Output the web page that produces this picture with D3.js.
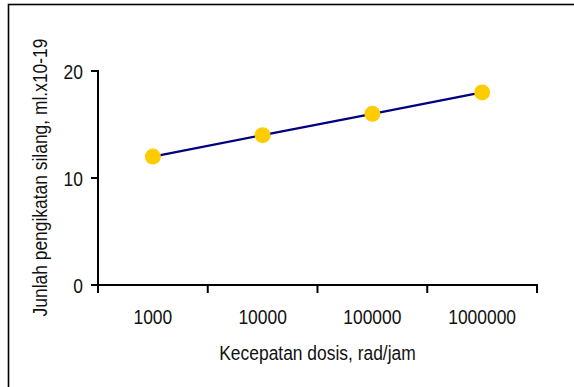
<!DOCTYPE html>
<html>
<head>
<meta charset="utf-8">
<script src="https://cdn.jsdelivr.net/npm/d3@7"></script>
<style>
  html, body { margin: 0; padding: 0; background: #fff; }
  svg { display: block; }
  text { font-family: "Liberation Sans", Arial, sans-serif; fill: #111; font-size: 21px; }
</style>
</head>
<body>
<svg id="chart" width="574" height="387"></svg>
<script>
// Dose rate categories and cross-link counts
const categories = ["1000", "10000", "100000", "1000000"];
const values = [12, 14, 16, 18];
const yTicks = [0, 10, 20];

const svg = d3.select("#chart");
const W = 574, H = 387;
const margin = { left: 98, right: 37, top: 71, bottom: 102 };
const narrow = 0.83; // condensed look for all labels

// outer frame
svg.append("rect")
  .attr("x", 8.5).attr("y", 4.5)
  .attr("width", W).attr("height", H)
  .attr("fill", "none").attr("stroke", "#000").attr("stroke-width", 1.6);

const x = d3.scaleBand()
  .domain(categories)
  .range([margin.left, W - margin.right])
  .paddingInner(0).paddingOuter(0);

const y = d3.scaleLinear()
  .domain([0, 20])
  .range([H - margin.bottom, margin.top]);

function label(px, py, str, anchor, rot) {
  return svg.append("text")
    .attr("transform", `translate(${px},${py})${rot ? ` rotate(${rot})` : ""} scale(${narrow},1)`)
    .attr("text-anchor", anchor)
    .text(str);
}

// x axis: ticks fall on category boundaries
const xAxisY = y(0);
svg.append("line")
  .attr("x1", margin.left - 7).attr("x2", W - margin.right + 1)
  .attr("y1", xAxisY).attr("y2", xAxisY)
  .attr("stroke", "#000").attr("stroke-width", 2);
const bounds = categories.map(c => x(c)).concat([x(categories[categories.length - 1]) + x.bandwidth()]);
svg.selectAll(".xt").data(bounds).enter().append("line")
  .attr("x1", d => d).attr("x2", d => d)
  .attr("y1", xAxisY).attr("y2", xAxisY + 8)
  .attr("stroke", "#000").attr("stroke-width", 2);
categories.forEach(c => label(x(c) + x.bandwidth() / 2, xAxisY + 39, c, "middle"));

// y axis
svg.append("line")
  .attr("x1", margin.left).attr("x2", margin.left)
  .attr("y1", y(20) - 1).attr("y2", y(0) + 8)
  .attr("stroke", "#000").attr("stroke-width", 2);
svg.selectAll(".yt").data(yTicks).enter().append("line")
  .attr("x1", margin.left - 7).attr("x2", margin.left)
  .attr("y1", d => y(d)).attr("y2", d => y(d))
  .attr("stroke", "#000").attr("stroke-width", 2);
yTicks.forEach(t => label(margin.left - 15, y(t) + 7.5, String(t), "end"));

// series line and markers
const cx = d => x(d) + x.bandwidth() / 2;
const line = d3.line().x((d, i) => cx(categories[i])).y(d => y(d));
svg.append("path").datum(values)
  .attr("d", line).attr("fill", "none")
  .attr("stroke", "#000080").attr("stroke-width", 2.2);
svg.selectAll(".pt").data(values).enter().append("circle")
  .attr("cx", (d, i) => cx(categories[i]))
  .attr("cy", d => y(d))
  .attr("r", 8)
  .attr("fill", "#FFCC00");

// axis titles
label((margin.left + W - margin.right) / 2, 360, "Kecepatan dosis, rad/jam", "middle");
label(47, 177.5, "Junlah pengikatan silang, ml.x10-19", "middle", -90);
</script>
</body>
</html>
